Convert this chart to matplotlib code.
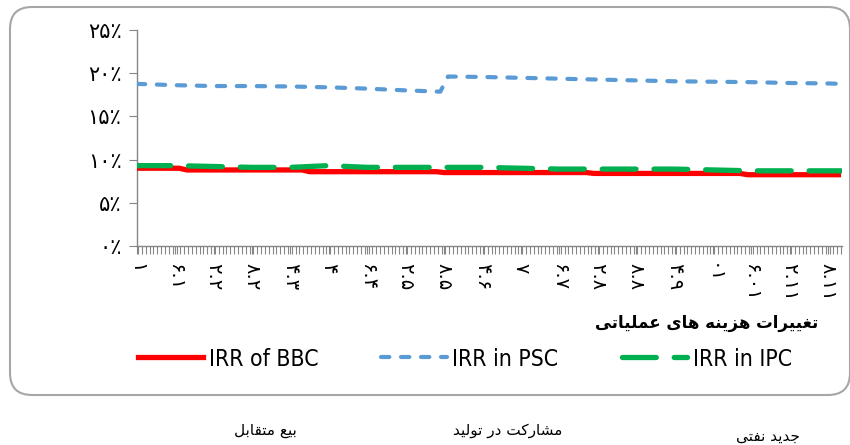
import matplotlib
matplotlib.use('Agg')
import matplotlib.pyplot as plt
from matplotlib.patches import FancyBboxPatch
from matplotlib.lines import Line2D
from matplotlib.ticker import MultipleLocator, FixedLocator

# Data (IRR in %, x = change in operating costs)
x_labels = [1, 1.6, 2.2, 2.8, 3.4, 4, 4.6, 5.2, 5.8, 6.4, 7, 7.6, 8.2, 8.8, 9.4, 10, 10.6, 11.2, 11.8]

x_bbc = [1, 1.66, 1.78, 3.58, 3.7, 5.68, 5.8, 8.02, 8.14, 10.42, 10.54, 12.0]
irr_bbc = [9.0, 9.0, 8.8, 8.8, 8.6, 8.6, 8.5, 8.5, 8.4, 8.4, 8.25, 8.25]

x_psc = [1, 1.6, 2.2, 2.8, 3.4, 4, 4.6, 5.2, 5.74, 5.86, 6.4, 7, 7.6, 8.2, 8.8, 9.4, 10, 10.6, 11.2, 11.8, 12.0]
irr_psc = [18.75, 18.6, 18.5, 18.5, 18.45, 18.35, 18.2, 18.0, 17.85, 19.6, 19.55, 19.45, 19.35,
           19.25, 19.15, 19.05, 19.0, 18.95, 18.85, 18.8, 18.75]

x_ipc = [1, 1.6, 2.2, 2.8, 3.4, 4, 4.6, 5.2, 5.8, 6.4, 7, 7.6, 8.2, 8.8, 9.4, 10, 10.6, 11.2, 11.8, 12.0]
irr_ipc = [9.3, 9.3, 9.2, 9.1, 9.1, 9.3, 9.1, 9.1, 9.1, 9.1, 9.0, 8.9, 8.9, 8.9, 8.9, 8.8, 8.7, 8.7, 8.7, 8.7]

y_ticks = [0, 5, 10, 15, 20, 25]
series_names = ['IRR of BBC', 'IRR in PSC', 'IRR in IPC']
x_title = 'تغییرات هزینه های عملیاتی'
contract_names = ['بیع متقابل', 'مشارکت در تولید', 'جدید نفتی']

# Minimal Persian shaping (matplotlib does no joining / RTL)
FORMS = {  # isolated, final, initial, medial
    'ا': ('\uFE8D', '\uFE8E', None, None),
    'ب': ('\uFE8F', '\uFE90', '\uFE91', '\uFE92'),
    'ت': ('\uFE95', '\uFE96', '\uFE97', '\uFE98'),
    'ج': ('\uFE9D', '\uFE9E', '\uFE9F', '\uFEA0'),
    'د': ('\uFEA9', '\uFEAA', None, None),
    'ر': ('\uFEAD', '\uFEAE', None, None),
    'ز': ('\uFEAF', '\uFEB0', None, None),
    'ش': ('\uFEB5', '\uFEB6', '\uFEB7', '\uFEB8'),
    'ع': ('\uFEC9', '\uFECA', '\uFECB', '\uFECC'),
    'غ': ('\uFECD', '\uFECE', '\uFECF', '\uFED0'),
    'ف': ('\uFED1', '\uFED2', '\uFED3', '\uFED4'),
    'ق': ('\uFED5', '\uFED6', '\uFED7', '\uFED8'),
    'ک': ('\uFB8E', '\uFB8F', '\uFB90', '\uFB91'),
    'ل': ('\uFEDD', '\uFEDE', '\uFEDF', '\uFEE0'),
    'م': ('\uFEE1', '\uFEE2', '\uFEE3', '\uFEE4'),
    'ن': ('\uFEE5', '\uFEE6', '\uFEE7', '\uFEE8'),
    'ه': ('\uFEE9', '\uFEEA', '\uFEEB', '\uFEEC'),
    'و': ('\uFEED', '\uFEEE', None, None),
    'ی': ('\uFBFC', '\uFBFD', '\uFBFE', '\uFBFF'),
}


def fa(text):
    out = []
    for i, ch in enumerate(text):
        if ch not in FORMS:
            out.append(ch)
            continue
        prev = text[i - 1] if i > 0 else ''
        nxt = text[i + 1] if i + 1 < len(text) else ''
        join_prev = prev in FORMS and FORMS[prev][2] is not None
        join_next = nxt in FORMS and FORMS[ch][2] is not None
        iso, fin, ini, med = FORMS[ch]
        if join_prev and join_next:
            out.append(med)
        elif join_prev:
            out.append(fin)
        elif join_next:
            out.append(ini)
        else:
            out.append(iso)
    return ''.join(reversed(out))


def fa_digits(s):
    return s.translate(str.maketrans('0123456789', '۰۱۲۳۴۵۶۷۸۹'))


def x_label_text(v):
    s = ('%g' % v)
    return fa_digits(s)[::-1]  # shown reversed in the original


red = '#FF0000'
blue = '#5B9BD5'
green = '#00B050'
grey = '#868686'

fig = plt.figure(figsize=(8.5, 4.45), dpi=100)

# rounded chart frame
frame = FancyBboxPatch((0.10, 0.50), 8.40, 3.88, boxstyle='round,pad=0,rounding_size=0.22',
                       transform=fig.dpi_scale_trans, facecolor='white',
                       edgecolor='#A6A6A6', linewidth=1.5, zorder=-5)
fig.patches.append(frame)

ax = fig.add_axes([0.161, 0.447, 0.830, 0.486])
ax.set_facecolor('none')
ax.set_zorder(2)

ax.plot(x_bbc, irr_bbc, color=red, lw=3.8, solid_capstyle='butt', zorder=3)
ax.plot(x_psc, irr_psc, color=blue, lw=3.0, dashes=(2.0, 2.8), dash_capstyle='round', zorder=3)
ax.plot(x_ipc, irr_ipc, color=green, lw=3.8, dashes=(6.4, 3.4), dash_capstyle='round', zorder=4)

ax.set_xlim(1, 12.02)
ax.set_ylim(0, 25)

ax.yaxis.set_major_locator(FixedLocator(y_ticks))
ax.set_yticklabels([fa_digits(str(t)) + '٪' for t in y_ticks], fontsize=15, family='DejaVu Sans')
ax.xaxis.set_major_locator(FixedLocator(x_labels))
ax.set_xticklabels([x_label_text(v) for v in x_labels], rotation=-90, fontsize=14,
                   family='DejaVu Sans', va='top', ha='center')
ax.xaxis.set_minor_locator(MultipleLocator(0.06))

for s in ['top', 'right']:
    ax.spines[s].set_visible(False)
for s in ['left', 'bottom']:
    ax.spines[s].set_color(grey)
    ax.spines[s].set_linewidth(1.0)
ax.tick_params(axis='y', direction='out', length=6, color=grey, pad=5)
ax.tick_params(axis='x', which='both', direction='out', length=6, width=0.8, color=grey, pad=6)

fig.text(707 / 850, 1 - 323 / 445, fa(x_title), ha='center', va='center', fontsize=12,
         fontweight='bold', family='DejaVu Sans')

handles = [
    Line2D([], [], color=red, lw=3.8),
    Line2D([], [], color=blue, lw=3.0, dashes=(2.0, 2.8), dash_capstyle='round'),
    Line2D([], [], color=green, lw=3.8, dashes=(6.4, 3.4), dash_capstyle='round'),
]
fig.legend(handles, series_names, loc='center left', bbox_to_anchor=(117 / 850, 1 - 359 / 445),
           ncol=3, frameon=False, handlelength=2.85, handletextpad=0.25, columnspacing=2.75,
           prop={'family': 'DejaVu Sans', 'stretch': 'condensed', 'size': 16.5})

for name, xp, yp in zip(contract_names, [265, 508, 768], [431, 430, 436]):
    fig.text(xp / 850, 1 - yp / 445, fa(name), ha='center', va='center', fontsize=11,
             family='DejaVu Sans')

fig.savefig('out.png', dpi=100)
